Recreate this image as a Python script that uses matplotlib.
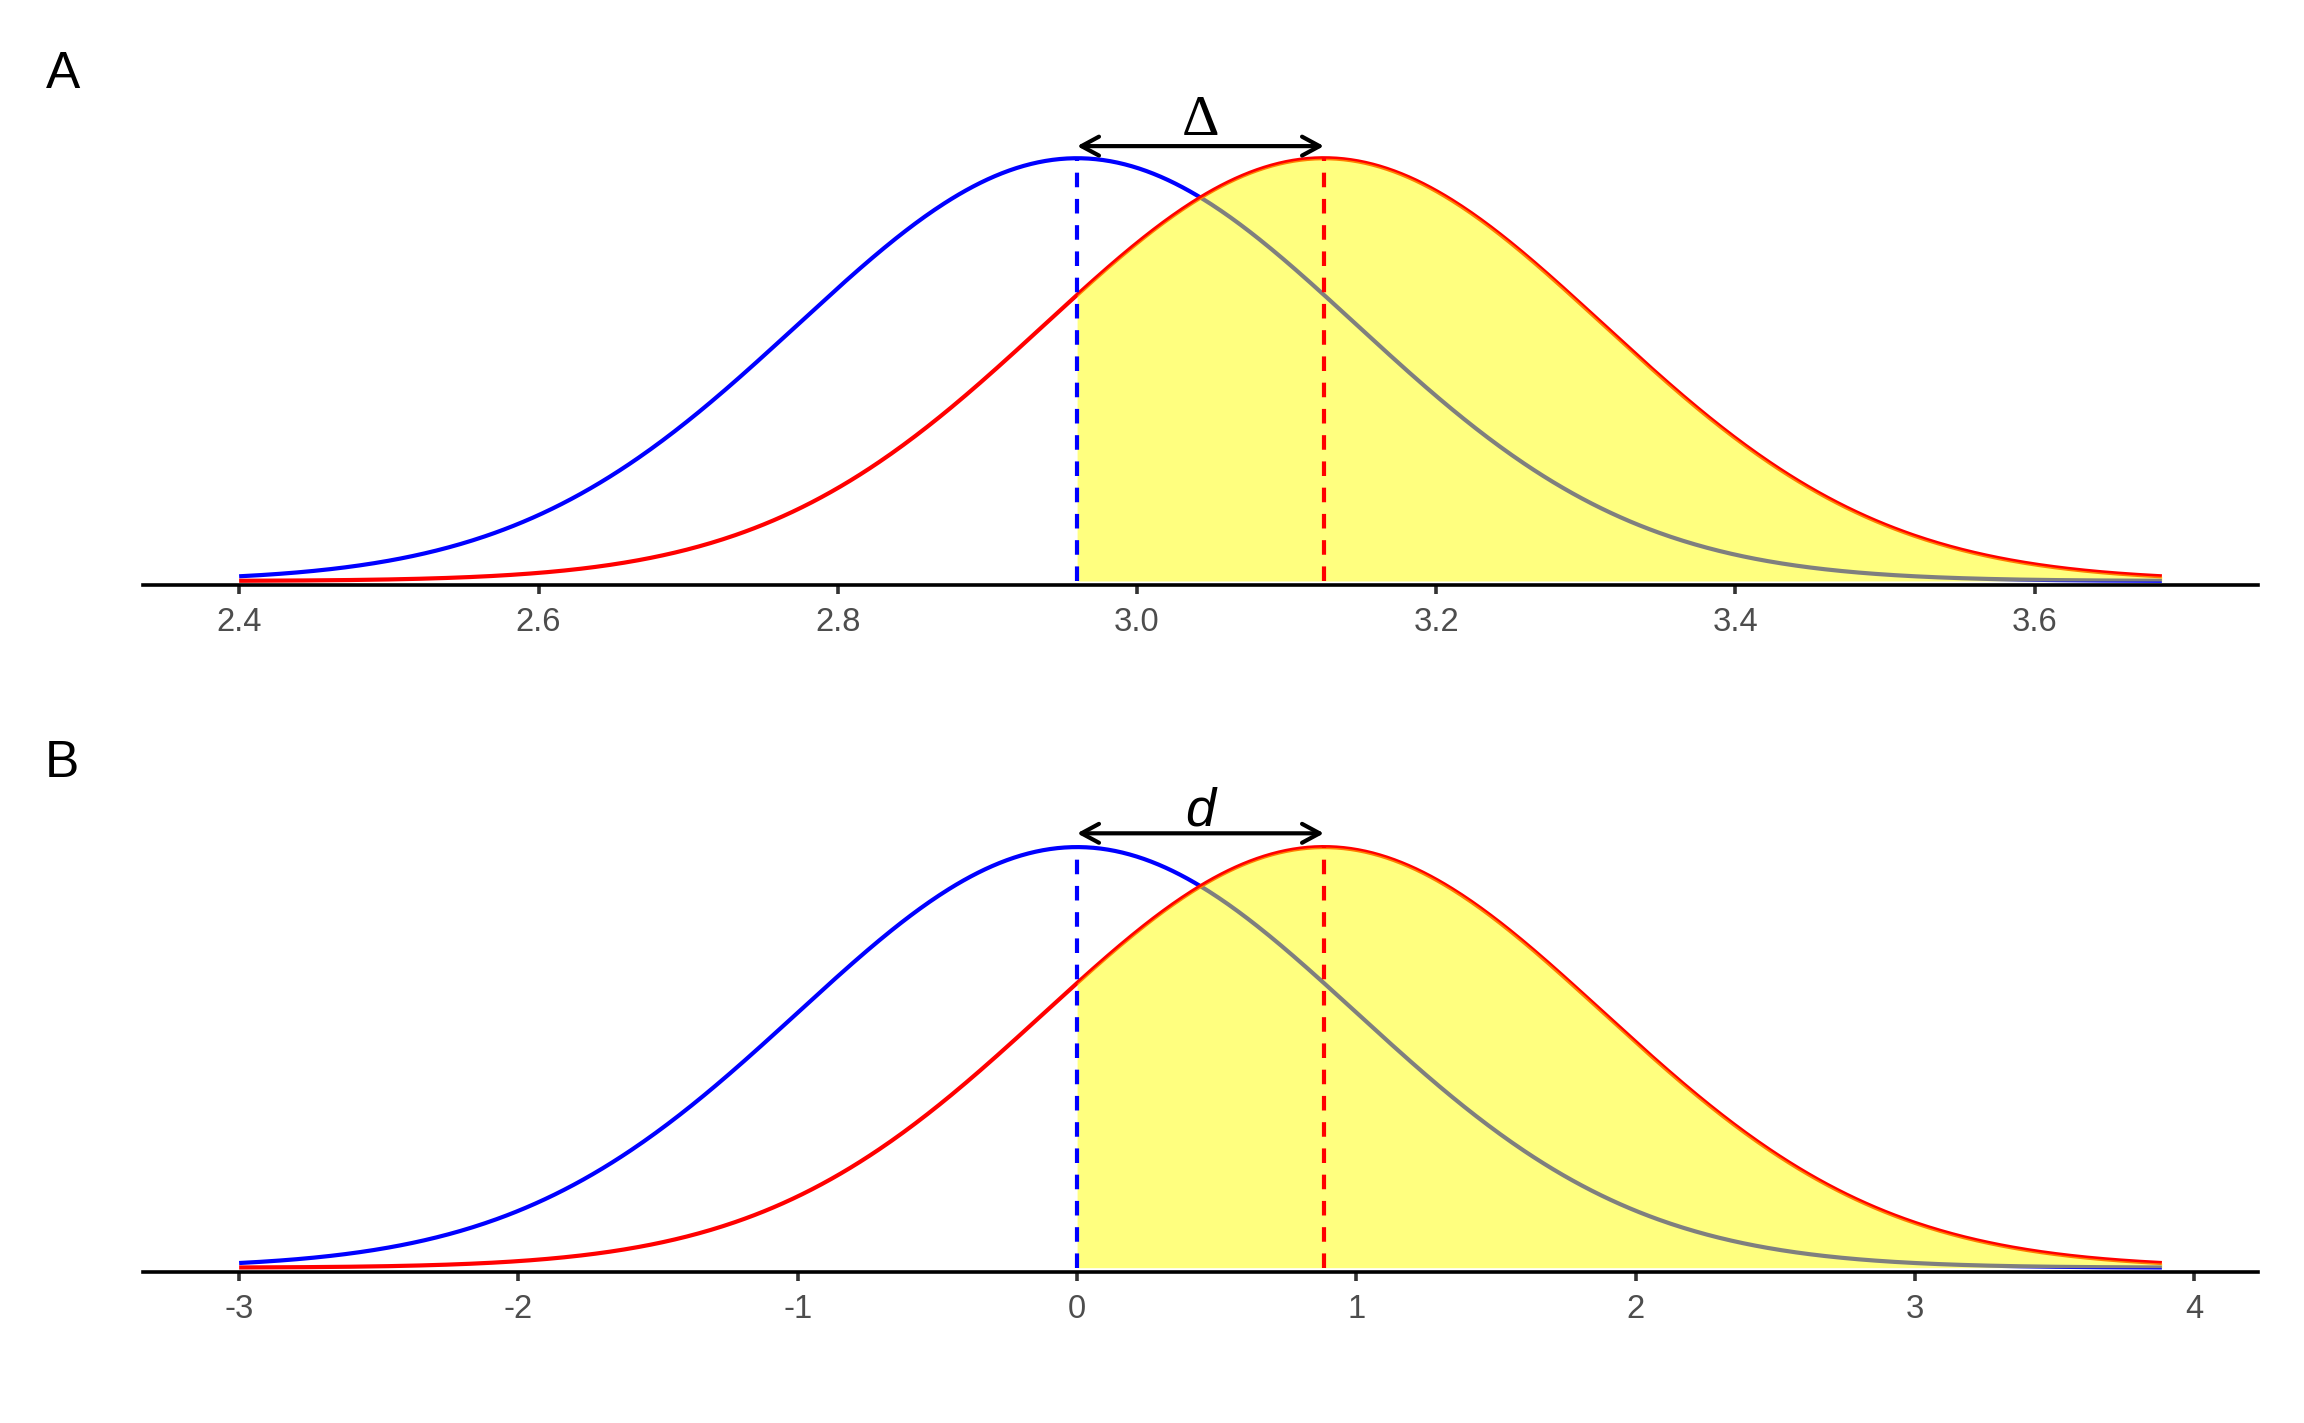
import numpy as np
import matplotlib
matplotlib.use("Agg")
import matplotlib.pyplot as plt
from matplotlib.patches import FancyArrowPatch

# ---- data (parameters) ----
mean_ctrl_A = 2.96
mean_trt_A = 3.125
sd_A = 0.1867
d_B = (mean_trt_A - mean_ctrl_A) / sd_A  # ~0.88
ticks_A = [2.4, 2.6, 2.8, 3.0, 3.2, 3.4, 3.6]
tick_labels_A = ["2.4", "2.6", "2.8", "3.0", "3.2", "3.4", "3.6"]
ticks_B = [-3, -2, -1, 0, 1, 2, 3, 4]
tick_labels_B = ["-3", "-2", "-1", "0", "1", "2", "3", "4"]
panel_labels = ["A", "B"]
delta_labels = ["Δ", "d"]

def npdf(x, m, s):
    return np.exp(-0.5 * ((x - m) / s) ** 2) / (s * np.sqrt(2 * np.pi))

DPI = 200
fig = plt.figure(figsize=(2304 / DPI, 1423 / DPI), dpi=DPI)

def panel(rect, m1, m2, s, ticks, labels, ylim, arrow_y, text_y, label, txt_kw):
    ax = fig.add_axes(rect)
    lo, hi = m1 - 3 * s, m2 + 3 * s
    x = np.linspace(lo, hi, 800)
    y1 = npdf(x, m1, s)
    y2 = npdf(x, m2, s)
    ax.plot(x, y1, color="#0000FF", lw=1.5, solid_capstyle="butt", zorder=2)
    ax.plot(x, y2, color="#FF0000", lw=1.5, solid_capstyle="butt", zorder=2)
    xf = x[x >= m1]
    xf = np.concatenate([[m1], xf])
    ax.fill_between(xf, 0, npdf(xf, m2, s), color="#FFFF00", alpha=0.5, lw=0, zorder=3)
    pk = npdf(m1, m1, s)
    ax.plot([m1, m1], [0, pk], color="#0000FF", lw=1.5, ls=(0, (3.5, 2.8)), zorder=4)
    ax.plot([m2, m2], [0, pk], color="#FF0000", lw=1.5, ls=(0, (3.5, 2.8)), zorder=4)
    arr = FancyArrowPatch((m1, arrow_y), (m2, arrow_y), arrowstyle="<->,head_length=6.3,head_width=3.4",
                          mutation_scale=1, color="black", lw=1.5, shrinkA=0, shrinkB=0, zorder=5)
    ax.add_patch(arr)
    ax.text((m1 + m2) / 2, text_y, label, ha="center", va="baseline", **txt_kw)
    rng = hi - lo
    ax.set_xlim(lo - 0.05 * rng, hi + 0.05 * rng)
    ax.set_ylim(*ylim)
    for sp in ["top", "left", "right"]:
        ax.spines[sp].set_visible(False)
    ax.spines["bottom"].set_linewidth(1.3)
    ax.spines["bottom"].set_color("black")
    ax.set_yticks([])
    ax.set_xticks(ticks)
    ax.set_xticklabels(labels, fontsize=11.8, color="#4D4D4D", family="Liberation Sans")
    ax.tick_params(axis="x", length=3.2, width=1.3, color="#333333", pad=4.8)
    ax.patch.set_alpha(0)
    return ax

panel([0.06207, 0.5889, 0.91797, 0.3689], mean_ctrl_A, mean_trt_A, sd_A,
      ticks_A, tick_labels_A, (-0.0202, 2.633), 2.198, 2.254, delta_labels[0],
      dict(fontsize=21, family="Liberation Serif"))
panel([0.06207, 0.1061, 0.91797, 0.3689], 0.0, d_B, 1.0,
      ticks_B, tick_labels_B, (-0.0041, 0.4938), 0.412, 0.4198, delta_labels[1],
      dict(fontsize=19.5, family="Liberation Sans", style="italic"))

fig.text(0.0273, 0.9382, panel_labels[0], fontsize=18.5, family="Liberation Sans", ha="center", va="baseline")
fig.text(0.0269, 0.4540, panel_labels[1], fontsize=18.5, family="Liberation Sans", ha="center", va="baseline")

fig.savefig("out.png", dpi=DPI, facecolor="white")
